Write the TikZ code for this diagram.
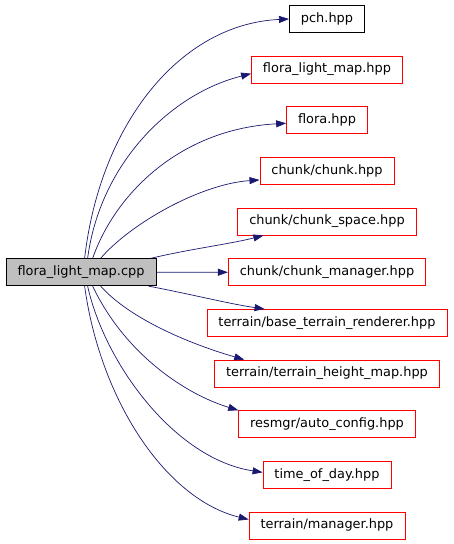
\documentclass[tikz,border=0pt]{standalone}
\usepackage{fontspec}
\setmainfont{DejaVu Sans}
\usepackage{tikz}
\usetikzlibrary{arrows.meta,positioning}
\usepackage{xcolor}
\definecolor{edgeblue}{RGB}{25,25,112}
\definecolor{boxred}{RGB}{255,0,0}
\definecolor{maingray}{RGB}{191,191,191}

\begin{document}
\begin{tikzpicture}[x=1pt,y=1pt,font=\fontsize{12.9}{15}\selectfont,
  node distance=22.85pt,
  filebox/.style={draw=boxred,line width=0.8pt,minimum height=27pt,inner xsep=11.5pt,text height=9.5pt,text depth=3pt},
  mainbox/.style={draw=black,fill=maingray,line width=0.8pt,minimum height=27pt,inner xsep=11.5pt,text height=9.5pt,text depth=3pt},
  incl/.style={draw=edgeblue,line width=0.7pt,-{Triangle[length=10pt,width=7pt]}}]
\useasboundingbox (0,0) rectangle (453,544);
% main file
\node[mainbox] (main) at (81,271.75) {flora\_light\_map.cpp};
% included files
\node[filebox,draw=black] (pch) at (327,525) {pch.hpp};
\node[filebox,below=of pch] (flm) {flora\_light\_map.hpp};
\node[filebox,below=of flm] (flora) {flora.hpp};
\node[filebox,below=of flora] (chunk) {chunk/chunk.hpp};
\node[filebox,below=of chunk] (space) {chunk/chunk\_space.hpp};
\node[filebox,below=of space] (cmgr) {chunk/chunk\_manager.hpp};
\node[filebox,below=of cmgr] (base) {terrain/base\_terrain\_renderer.hpp};
\node[filebox,below=of base] (height) {terrain/terrain\_height\_map.hpp};
\node[filebox,below=of height] (resmgr) {resmgr/auto\_config.hpp};
\node[filebox,below=of resmgr] (tod) {time\_of\_day.hpp};
\node[filebox,below=of tod] (tmgr) {terrain/manager.hpp};
% edges going up
\draw[incl] ([xshift=79pt]main.north west) .. controls (100,420) and (180,520) .. (pch.west);
\draw[incl] ([xshift=82pt]main.north west) .. controls (100,380) and (170,450) .. ([yshift=-4pt]flm.west);
\draw[incl] ([xshift=87pt]main.north west) .. controls (115,350) and (180,415) .. ([yshift=-3pt]flora.west);
\draw[incl] ([xshift=95pt]main.north west) .. controls (130,320) and (200,360) .. ([yshift=-9pt]chunk.west);
\draw[incl] ([xshift=145pt]main.north west) .. controls (190,295) and (230,300) .. ([xshift=26pt]space.south west);
% straight edge
\draw[incl] (main.east) -- (cmgr.west);
% edges going down
\draw[incl] ([xshift=143pt]main.south west) .. controls (190,250) and (230,240) .. ([xshift=58pt]base.north west);
\draw[incl] ([xshift=95pt]main.south west) .. controls (130,225) and (190,200) .. ([xshift=30pt]height.north west);
\draw[incl] ([xshift=87pt]main.south west) .. controls (125,190) and (185,150) .. (resmgr.north west);
\draw[incl] ([xshift=82pt]main.south west) .. controls (105,180) and (175,85) .. ([yshift=2.5pt]tod.west);
\draw[incl] ([xshift=79pt]main.south west) .. controls (100,145) and (165,45) .. ([yshift=6pt]tmgr.west);
\end{tikzpicture}
\end{document}
